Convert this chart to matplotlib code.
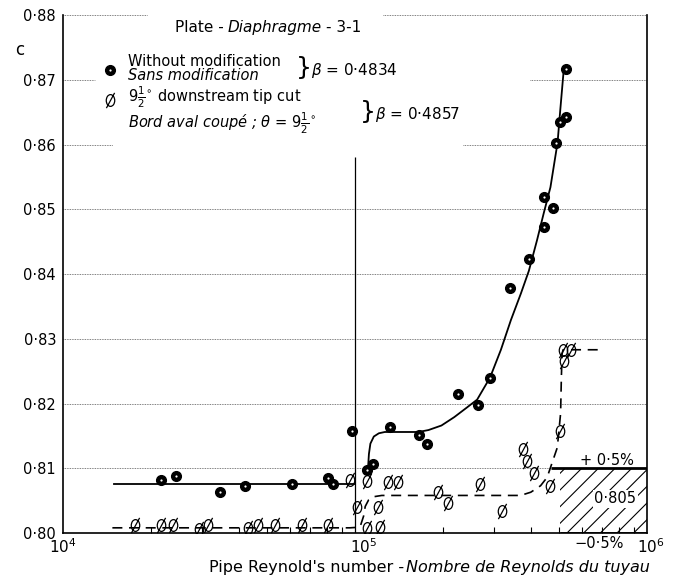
import numpy as np
import matplotlib
matplotlib.use("Agg")
import matplotlib.pyplot as plt
from matplotlib.path import Path
from matplotlib.lines import Line2D
from matplotlib.ticker import FixedLocator, NullFormatter

plt.rcParams['font.family'] = ['DejaVu Sans']
plt.rcParams['mathtext.fontset'] = 'dejavusans'
plt.rcParams['hatch.linewidth'] = 0.8

# measured points, plate without modification (beta = 0.4834)
re_plain = [21600, 24300, 34500, 42100, 60700, 80700, 84000, 97700,
            110000, 115000, 131600, 166000, 176000, 226000, 264000, 290000,
            339000, 394000, 443000, 443000, 475000, 487000, 502000, 530000, 530000]
c_plain = [0.8082, 0.8088, 0.8063, 0.8072, 0.8075, 0.8085, 0.8076, 0.8157,
           0.8097, 0.8106, 0.8163, 0.8151, 0.8137, 0.8214, 0.8198, 0.8240,
           0.8379, 0.8423, 0.8519, 0.8472, 0.8502, 0.8603, 0.8634, 0.8642, 0.8716]

# measured points, 9 1/2 deg downstream tip cut (beta = 0.4857)
re_cut = [17700, 21600, 23800, 29200, 31400, 43000, 46700, 53400, 65600, 80700,
          96200, 101600, 110000, 110000, 120000, 121600, 129500, 140000,
          193000, 209000, 268000, 318000, 376000, 387000, 409000, 464000,
          502000, 514000, 518000, 551000]
c_cut = [0.8012, 0.8012, 0.8012, 0.8006, 0.8012, 0.8007, 0.8012, 0.8012, 0.8012, 0.8012,
         0.8082, 0.8040, 0.8081, 0.8007, 0.8040, 0.8010, 0.8079, 0.8079,
         0.8063, 0.8046, 0.8076, 0.8034, 0.8129, 0.8111, 0.8093, 0.8072,
         0.8157, 0.8282, 0.8265, 0.8283]

# faired curves as drawn on the sheet
re_plain_low = [14900, 100000]
c_plain_low = [0.8075, 0.8075]
re_plain_high = [110700, 111600, 112900, 116000, 120700, 126500, 144500, 165000,
                 178500, 197700, 218800, 242000, 262000, 290000, 316000, 342000,
                 370000, 394000, 420000, 443000, 467000, 494000, 505000, 519000]
c_plain_high = [0.8097, 0.8122, 0.8138, 0.8149, 0.8154, 0.8156, 0.8156, 0.8156,
                0.8159, 0.8166, 0.8179, 0.8194, 0.8206, 0.8240, 0.8283, 0.8329,
                0.8370, 0.8405, 0.8452, 0.8494, 0.8534, 0.8603, 0.8655, 0.8717]
re_cut_curve = [14760, 96100, 104000, 107000, 108400, 111300, 115800, 123500,
                369000, 400000, 432000, 455000, 493000, 506000, 509000, 512000,
                516000, 708000]
c_cut_curve = [0.8008, 0.8008, 0.8009, 0.8026, 0.8041, 0.8051, 0.8056, 0.8058,
               0.8058, 0.8063, 0.8073, 0.8086, 0.8132, 0.8185, 0.8240, 0.8277,
               0.8283, 0.8283]

# tolerance band 0.805 +/- 0.5 %
band_re = [502000, 1000000]
band_line_re = [468000, 1000000]
band_lo, band_mid, band_hi = 0.800, 0.805, 0.810

W, H = 675, 577
fig = plt.figure(figsize=(W / 100, H / 100), dpi=100)
ax = fig.add_axes([63 / W, 1 - 533 / H, 584 / W, 518 / H])


def P(x, y):
    return x / W, 1 - y / H


# slashed circle marker
circ = Path.unit_circle()
verts = np.concatenate([circ.vertices * [0.72, 1.0], [[-0.7, -1.3], [0.7, 1.3]]])
codes = np.concatenate([circ.codes, [Path.MOVETO, Path.LINETO]])
slashed = Path(verts, codes)

ax.set_xscale('log')
ax.set_xlim(1e4, 1e6)
ax.set_ylim(0.80, 0.88)

# grid rows (broken where the key text sits)
yt = np.round(np.arange(0.80, 0.8801, 0.01), 2)
grid_kw = dict(color='#555555', lw=0.6, ls=(0, (1, 1)), transform=ax.get_yaxis_transform())
for v in yt[1:6]:
    ax.plot([0, 1], [v, v], **grid_kw)
ax.plot([0, 0.086], [0.86, 0.86], **grid_kw)
ax.plot([0.685, 1], [0.86, 0.86], **grid_kw)
ax.plot([0, 0.055], [0.87, 0.87], **grid_kw)
ax.plot([0.80, 1], [0.87, 0.87], **grid_kw)
ax.plot([0, 0.144], [0.88, 0.88], **grid_kw)
ax.plot([0.548, 1], [0.88, 0.88], **grid_kw)

ax.vlines(1e5, 0.80, 0.858, color='black', lw=0.9)

# curves
ax.plot(re_plain_low, c_plain_low, color='black', lw=1.3)
ax.plot(re_plain_high, c_plain_high, color='black', lw=1.3)
ax.plot(re_cut_curve, c_cut_curve, color='black', lw=1.2, dashes=(6, 4))

# band
ax.fill_between(band_re, band_lo, band_hi, facecolor='none', edgecolor='black',
                hatch='//', lw=0)
ax.plot(band_line_re, [band_hi, band_hi], color='black', lw=2.0, solid_capstyle='butt')
ax.plot(band_re, [band_lo, band_lo], color='black', lw=2.0, solid_capstyle='butt')
ax.text(7.3e5, band_hi + 0.0012, '+ 0·5%', fontsize=10.5, ha='center', va='center')
ax.text(7.8e5, band_mid + 0.0003, '0·805', fontsize=10.5, ha='center', va='center',
        bbox=dict(facecolor='white', edgecolor='none', pad=1))
ax.text(6.85e5, -0.02, '−0·5%', fontsize=10.5, ha='center', va='center',
        transform=ax.get_xaxis_transform())

# points
ax.plot(re_cut, c_cut, ls='none', marker=slashed, ms=11, mfc='none', mec='black', mew=0.9)
ax.plot(re_plain, c_plain, ls='none', marker='o', ms=7, mfc='black', mec='black')
ax.plot(re_plain, c_plain, ls='none', marker='o', ms=1.6, mfc='white', mec='none')

# axes styling
for s in ['left', 'bottom', 'right']:
    ax.spines[s].set_linewidth(1.2)
ax.spines['top'].set_visible(False)
ax.yaxis.set_major_locator(FixedLocator(yt))
ax.set_yticklabels([f'{v:.2f}'.replace('.', '·') for v in yt])
ax.tick_params(axis='y', length=0, pad=5, labelsize=10.5)
ax.xaxis.set_major_locator(FixedLocator([1e4, 1e5, 1e6]))
ax.xaxis.set_major_formatter(NullFormatter())
ax.xaxis.set_minor_locator(FixedLocator([m * 10 ** e for e in (4, 5) for m in range(2, 10)]))
ax.xaxis.set_minor_formatter(NullFormatter())
ax.tick_params(axis='x', which='major', length=0)
ax.tick_params(axis='x', which='minor', direction='in', length=4, width=0.8)

xt = ax.get_xaxis_transform()
ax.text(1.0e4, -0.027, r'$10^{4}$', fontsize=11, ha='center', va='center', transform=xt)
ax.text(1.07e5, -0.027, r'$10^{5}$', fontsize=11, ha='center', va='center', transform=xt)
ax.text(1.03e6, -0.027, r'$10^{6}$', fontsize=11, ha='center', va='center', transform=xt)

fig.text(*P(20, 50), 'c', fontsize=12, ha='center', va='center')

# x label: english + italic french
xl = fig.text(*P(209, 575), "Pipe Reynold's number -", fontsize=11.5, va='bottom')
ax.annotate('Nombre de Reynolds du tuyau', xy=(1, 0), xycoords=xl, xytext=(1, 0),
            textcoords='offset points', va='bottom', fontsize=11.5, style='italic',
            annotation_clip=False)

# title
t1 = fig.text(*P(175, 35), 'Plate -', fontsize=11, va='bottom')
t2 = ax.annotate('Diaphragme', xy=(1, 0), xycoords=t1, xytext=(3, 0),
                 textcoords='offset points', va='bottom', fontsize=11, style='italic',
                 annotation_clip=False)
ax.annotate('- 3-1', xy=(1, 0), xycoords=t2, xytext=(3, 0),
            textcoords='offset points', va='bottom', fontsize=11, annotation_clip=False)

# key
fig.add_artist(Line2D([110 / W], [1 - 70 / H], transform=fig.transFigure, marker='o',
                      ms=7, mfc='black', mec='black', ls='none'))
fig.add_artist(Line2D([110 / W], [1 - 70 / H], transform=fig.transFigure, marker='o',
                      ms=1.6, mfc='white', mec='none', ls='none'))
fig.text(*P(128, 61), 'Without modification', fontsize=10.5, va='center')
fig.text(*P(128, 76), 'Sans modification', fontsize=10.5, va='center', style='italic')
fig.text(*P(296, 68), '}', fontsize=18, va='center')
fig.text(*P(311, 70), r'$\beta$ = 0·4834', fontsize=11, va='center')

fig.add_artist(Line2D([110 / W], [1 - 100 / H], transform=fig.transFigure, marker=slashed,
                      ms=11, mfc='none', mec='black', mew=0.9, ls='none'))
fig.text(*P(128, 97), r'$9\frac{1}{2}^{\circ}$ downstream tip cut', fontsize=10.5, va='center')
fig.text(*P(128, 123), r'Bord aval coupé ; $\theta$ = $9\frac{1}{2}^{\circ}$', fontsize=10.5,
         va='center', style='italic')
fig.text(*P(360, 112), '}', fontsize=18, va='center')
fig.text(*P(375, 114), r'$\beta$ = 0·4857', fontsize=11, va='center')

fig.savefig('out.png', dpi=100)
